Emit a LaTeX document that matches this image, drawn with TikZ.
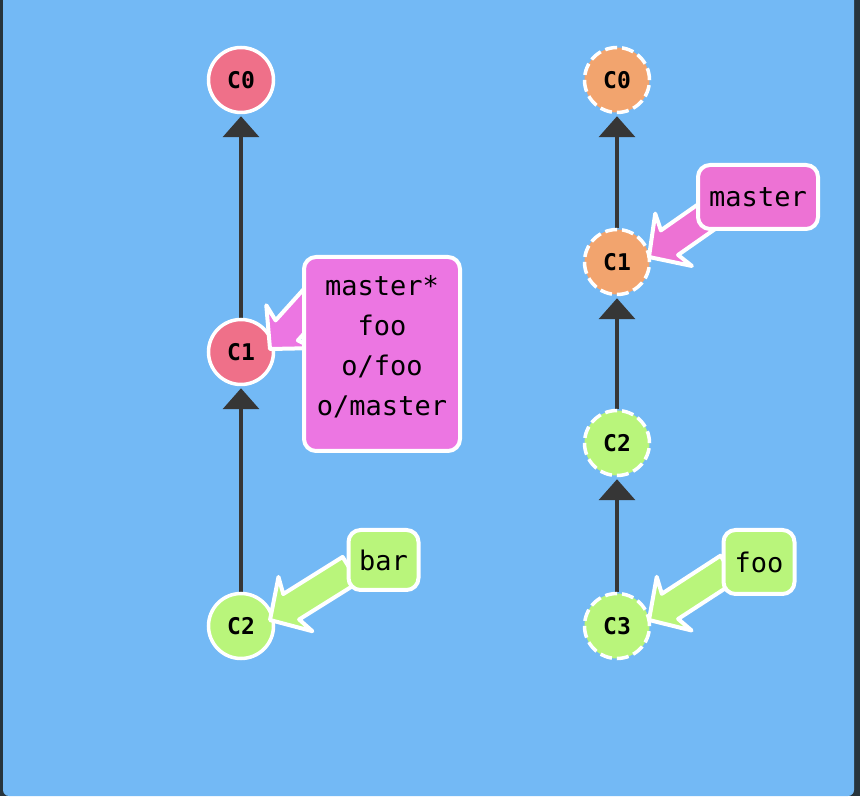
\documentclass[tikz,border=0pt]{standalone}
\usepackage{fontspec}
\setmonofont{DejaVu Sans Mono}
\usetikzlibrary{arrows.meta,calc}
\definecolor{framedark}{HTML}{27343C}
\definecolor{bgblue}{HTML}{73B9F5}
\definecolor{cred}{HTML}{EF7089}
\definecolor{corange}{HTML}{F2A46E}
\definecolor{cgreen}{HTML}{B9F57B}
\definecolor{cpink}{HTML}{EC76E2}
\definecolor{cpinkb}{HTML}{ED72D4}
\definecolor{edgegray}{HTML}{363636}
\pgfdeclarelayer{background}
\pgfdeclarelayer{fatlayer}
\pgfdeclarelayer{front}
\pgfsetlayers{background,main,fatlayer,front}
\newcommand\fatarrow[5]{%
  \draw[fatstyle, fill=#2, shift={($(#1.center)+(#4,#5)$)}, rotate=#3]
    (0,0) -- (30,32) -- (25,15) -- (95,15) -- (95,-15) -- (25,-15) -- (30,-32) -- cycle;}
\begin{document}
\begin{tikzpicture}[x=1pt,y=1pt,
  commit/.style={circle, minimum size=65pt, inner sep=0pt, line width=3.5pt, draw=white,
    font=\ttfamily\bfseries\fontsize{23}{23}\selectfont},
  ghost/.style={commit, dash pattern=on 12pt off 5pt},
  parent/.style={line width=4pt, draw=edgegray, -{Triangle[width=36pt,length=21pt]}, shorten >=2pt},
  branch/.style={draw=white, line width=4pt, rounded corners=12pt,
    font=\ttfamily\fontsize{27}{40}\selectfont, align=center, inner sep=0pt},
  fatstyle/.style={draw=white, line width=4pt, line join=round}]
\useasboundingbox (0,0) rectangle (860,796);
\begin{pgfonlayer}{background}
\fill[framedark] (0,0) rectangle (860,796);
\fill[bgblue, rounded corners=6pt] (3,0) rectangle (854,830);
\end{pgfonlayer}

\node[commit, fill=cred] (L0) at (241,716) {C0};
\node[commit, fill=cred] (L1) at (241,444) {C1};
\node[commit, fill=cgreen] (L2) at (241,170) {C2};
\node[ghost, fill=corange] (R0) at (617,716) {C0};
\node[ghost, fill=corange] (R1) at (617,534) {C1};
\node[ghost, fill=cgreen] (R2) at (617,353) {C2};
\node[ghost, fill=cgreen] (R3) at (617,170) {C3};

\begin{pgfonlayer}{background}
\draw[parent] (L2) -- (L1);
\draw[parent] (L1) -- (L0);
\draw[parent] (R3) -- (R2);
\draw[parent] (R2) -- (R1);
\draw[parent] (R1) -- (R0);
\end{pgfonlayer}

\begin{pgfonlayer}{front}
\node[branch, fill=cpink, minimum width=156pt, minimum height=194pt] (lm) at (382,442)
  {master*\\foo\\o/foo\\o/master\rule[-18pt]{0pt}{1pt}};
\node[branch, fill=cgreen, minimum width=70pt, minimum height=60pt] (bar) at (383.5,236) {bar};
\node[branch, fill=cpinkb, minimum width=120pt, minimum height=64pt] (rm) at (758,599) {master};
\node[branch, fill=cgreen, minimum width=71pt, minimum height=64pt] (foo) at (759,234) {foo};
\end{pgfonlayer}

\begin{pgfonlayer}{fatlayer}
\fatarrow{L1}{cpink}{48}{29}{3}
\fatarrow{L2}{cgreen}{32}{29}{6}
\fatarrow{R1}{cpinkb}{35}{32}{5}
\fatarrow{R3}{cgreen}{33}{32}{6}
\end{pgfonlayer}
\end{tikzpicture}
\end{document}
